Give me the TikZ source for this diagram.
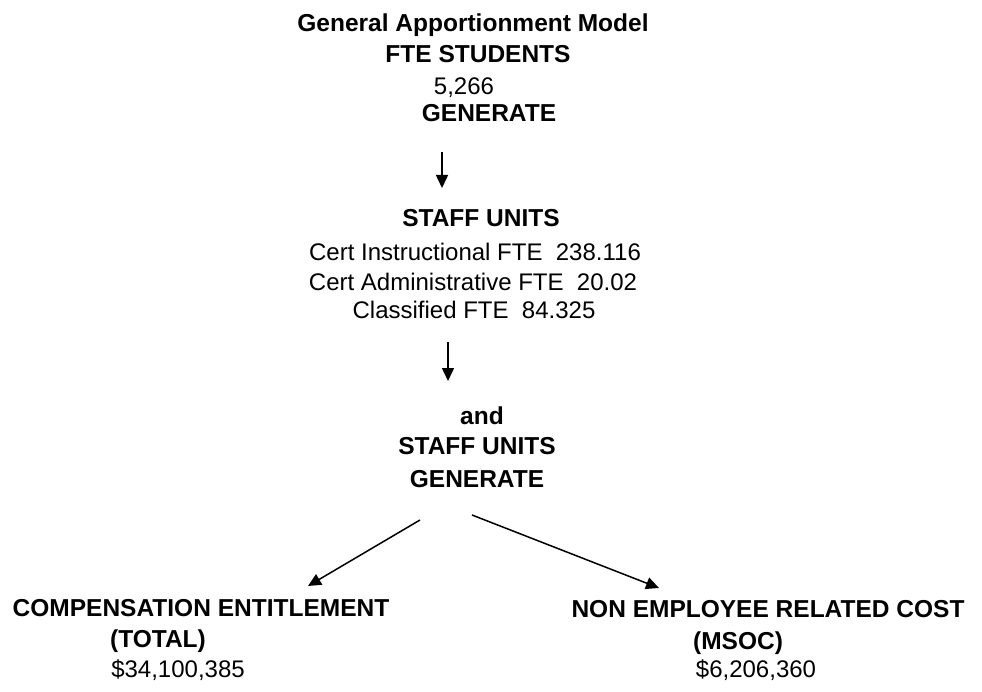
\documentclass[tikz,border=0pt]{standalone}
\usepackage{fontspec}
\setmainfont{Liberation Sans}
\usepackage{tikz}
\usetikzlibrary{positioning,arrows.meta}

\begin{document}
\begin{tikzpicture}[x=1pt,y=-1pt,
        txt/.style={anchor=base,inner sep=0pt,font=\fontsize{24}{28}\selectfont},
        hdr/.style={txt,font=\fontsize{24.5}{28}\selectfont\bfseries},
        flow/.style={-{Triangle[length=13pt,width=12pt]},line width=1.5pt}]
        \useasboundingbox (0,0) rectangle (982,692);

        % Title and students
        \node[hdr] (title) at (473,32) {General Apportionment Model};
        \node[hdr] (fte) at (478,63) {FTE STUDENTS};
        \node[txt] (students) at (464,95) {5,266};
        \node[hdr] (gen1) at (489,122) {GENERATE};

        % Staff units
        \node[hdr] (staff1) at (481,227) {STAFF UNITS};
        \node[txt] (instr) at (475,261) {Cert Instructional FTE\ \ 238.116};
        \node[txt] (admin) at (473,291) {Cert Administrative FTE\ \ 20.02};
        \node[txt] (class) at (474,319) {Classified FTE\ \ 84.325};

        % Second stage
        \node[hdr] (and) at (482,424) {and};
        \node[hdr] (staff2) at (477,454) {STAFF UNITS};
        \node[hdr] (gen2) at (477,487) {GENERATE};

        % Results
        \node[hdr] (comp) at (201,616) {COMPENSATION ENTITLEMENT};
        \node[hdr] (total) at (158,647) {(TOTAL)};
        \node[txt] (compval) at (178,677) {\$34,100,385};
        \node[hdr] (nonemp) at (768,617) {NON EMPLOYEE RELATED COST};
        \node[hdr] (msoc) at (738,649) {(MSOC)};
        \node[txt] (msocval) at (756,677) {\$6,206,360};

        % Arrow ends
        \coordinate (a1) at (442,152);
        \coordinate (b1) at (442,188);
        \coordinate (a2) at (448,342);
        \coordinate (b2) at (448,381);
        \coordinate (a3) at (420,520);
        \coordinate (b3) at (308,586);
        \coordinate (a4) at (472,515);
        \coordinate (b4) at (659,588);

        % Arrows
        \draw[flow] (a1) -- (b1);
        \draw[flow] (a2) -- (b2);
        \draw[flow] (a3) -- (b3);
        \draw[flow] (a4) -- (b4);
    \end{tikzpicture}
\end{document}
